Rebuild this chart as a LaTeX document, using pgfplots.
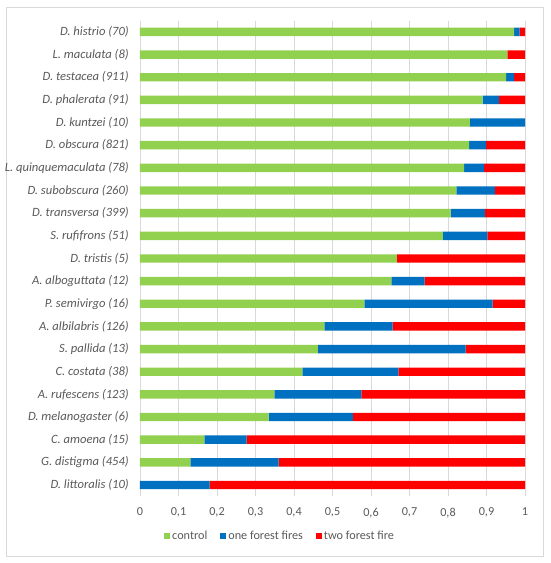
\documentclass[border=0pt]{standalone}
\usepackage{pgfplots}
\pgfplotsset{compat=1.18}
\usepackage{pgfplotstable}
\usepackage{fontspec}
\setmainfont{Carlito}
\definecolor{cgreen}{HTML}{92D050}
\definecolor{cblue}{HTML}{0070C0}
\definecolor{cred}{HTML}{FF0000}
\definecolor{ctext}{HTML}{595959}
\definecolor{cgrid}{HTML}{D9D9D9}
\pgfplotstableread{
idx ctrl one two
0  0.972 0.014 0.014
1  0.954 0.000 0.046
2  0.951 0.021 0.028
3  0.890 0.043 0.067
4  0.857 0.143 0.000
5  0.855 0.044 0.101
6  0.842 0.052 0.106
7  0.822 0.100 0.078
8  0.807 0.089 0.104
9  0.787 0.115 0.098
10 0.667 0.000 0.333
11 0.653 0.086 0.261
12 0.583 0.333 0.084
13 0.479 0.177 0.344
14 0.462 0.384 0.154
15 0.422 0.249 0.329
16 0.349 0.226 0.425
17 0.334 0.219 0.447
18 0.167 0.110 0.723
19 0.131 0.229 0.640
20 0.000 0.181 0.819
}\datatable
\begin{document}
\begin{tikzpicture}
\useasboundingbox (0,0) rectangle (550pt,563pt);
\draw[cgrid] (6pt,7pt) rectangle (543pt,556pt);
\begin{axis}[
  at={(140pt,66.7pt)}, anchor=south west,
  scale only axis, width=385pt, height=475.7pt,
  xbar stacked, bar width=8.4pt,
  xmin=0, xmax=1, ymin=-0.5, ymax=20.5,
  y dir=reverse,
  axis line style={draw=none},
  major tick length=0pt,
  xmajorgrids, grid style={cgrid, line width=0.6pt},
  xtick={0,0.1,0.2,0.3,0.4,0.5,0.6,0.7,0.8,0.9,1},
  xticklabels={0,{0,1},{0,2},{0,3},{0,4},{0,5},{0,6},{0,7},{0,8},{0,9},1},
  ytick={0,...,20},
  yticklabels={D. histrio (70),L. maculata (8),D. testacea (911),D. phalerata (91),D. kuntzei (10),D. obscura (821),L. quinquemaculata (78),D. subobscura (260),D. transversa (399),S. rufifrons (51),D. tristis (5),A. alboguttata (12),P. semivirgo (16),A. albilabris (126),S. pallida (13),C. costata (38),A. rufescens (123),D. melanogaster (6),C. amoena (15),G. distigma (454),D. littoralis (10)},
  yticklabel style={font=\fontsize{12.6}{14}\selectfont\itshape, text=ctext, inner sep=0pt, anchor=east, xshift=-11pt},
  xticklabel style={font=\fontsize{12.2}{14}\selectfont, text=ctext, inner sep=0pt, anchor=north, yshift=-11.5pt},
  legend columns=3,
  legend style={draw=none, fill=none, at={(0.364,-0.0835)}, anchor=center,
    font=\fontsize{12.2}{14}\selectfont, text=ctext, inner sep=0pt,
    /tikz/every even column/.append style={column sep=11pt},
    /tikz/every odd column/.append style={column sep=0pt}},
  legend image code/.code={\fill[#1] (0pt,-3pt) rectangle (6pt,3pt);},
]
\addplot[fill=cgreen, draw=none] table[x=ctrl, y=idx] {\datatable};
\addlegendentry{control}
\addplot[fill=cblue, draw=none] table[x=one, y=idx] {\datatable};
\addlegendentry{one forest fires}
\addplot[fill=cred, draw=none] table[x=two, y=idx] {\datatable};
\addlegendentry{two forest fire}
\end{axis}
\end{tikzpicture}
\end{document}
